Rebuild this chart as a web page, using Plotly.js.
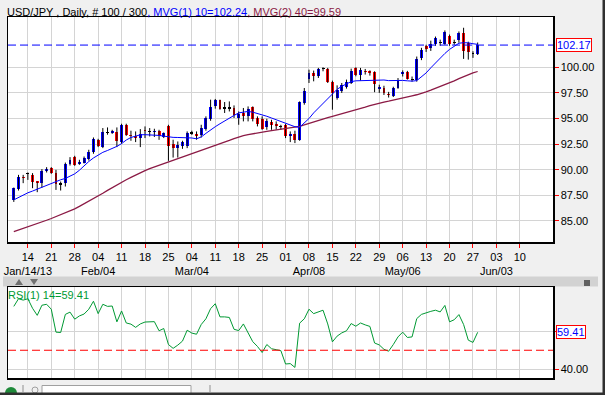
<!DOCTYPE html>
<html><head><meta charset="utf-8">
<script src="https://cdn.plot.ly/plotly-3.0.1.min.js"></script>
<style>html,body{margin:0;padding:0;background:#f0f0f0;overflow:hidden}#chart{width:605px;height:395px}</style>
</head><body><div id="chart"></div>
<script>
// ---- Data (USD/JPY daily, 100 bars, Jan 9 2013 .. May 28 2013) ----
const opens = [87.06,88.13,89.27,89.62,89.50,88.85,88.75,89.92,90.16,89.73,
88.60,88.69,90.58,91.23,90.58,90.70,91.04,91.75,92.93,92.21,
93.62,93.58,93.68,92.70,94.32,93.38,93.25,93.09,93.84,93.72,
93.68,93.74,93.19,94.30,92.50,92.17,92.34,92.27,93.56,93.51,
93.35,94.00,94.98,96.25,96.77,96.00,96.04,96.03,95.05,95.54,
95.21,96.09,95.05,94.95,94.13,94.66,94.46,94.25,94.32,93.25,
93.48,92.93,96.52,98.89,99.45,99.12,99.85,99.84,98.57,97.00,
97.72,98.04,98.47,99.94,99.29,99.63,99.58,99.51,97.89,97.98,
97.40,97.23,97.98,99.33,99.51,98.82,98.73,100.90,102.12,101.90,
102.32,102.42,102.32,103.03,102.44,102.64,103.37,102.39,101.30,101.33];
const highs = [88.26,89.50,89.50,89.73,89.67,88.87,90.06,90.25,90.25,89.99,
88.85,90.70,91.23,91.36,90.97,91.29,91.95,93.15,93.02,94.07,
94.13,93.90,94.13,94.49,94.49,93.81,93.74,93.97,94.23,94.07,
94.00,93.90,93.64,94.39,92.93,92.76,92.83,93.74,93.81,93.74,
94.39,95.21,96.84,96.91,96.84,96.61,96.67,96.28,95.69,96.03,
96.18,96.18,95.21,95.21,94.98,94.88,94.72,94.39,94.46,93.74,
93.81,96.67,97.98,99.77,99.68,99.94,100.00,99.94,98.70,98.24,
98.47,98.80,99.87,100.00,99.94,99.84,99.70,99.61,98.30,98.20,
97.60,98.10,98.95,99.70,99.65,99.10,101.05,101.90,102.20,102.60,
103.00,102.70,103.60,103.20,102.70,103.50,103.86,102.50,101.57,102.42];
const lows = [86.86,87.97,88.69,89.01,88.20,87.81,88.26,89.73,89.60,88.03,
87.97,88.36,90.41,90.38,90.48,90.61,90.90,91.56,92.21,92.11,
93.42,93.50,92.21,92.53,93.31,92.83,92.70,92.21,93.09,93.25,
93.20,92.92,93.09,90.87,91.19,91.19,92.04,92.11,93.40,92.93,
93.15,93.81,94.78,95.96,95.86,95.54,95.69,95.05,94.39,94.72,
94.72,94.72,94.23,93.90,93.90,93.90,93.90,93.90,93.09,92.70,
92.60,92.83,96.35,98.47,98.63,98.96,99.61,98.47,95.86,96.84,
97.50,97.92,98.37,99.12,98.70,99.29,99.19,97.57,97.50,97.30,
97.05,97.10,97.90,99.10,98.80,98.60,98.60,100.70,101.50,101.60,
102.10,102.10,102.20,102.10,102.20,102.40,100.82,100.75,100.92,101.20];
const closes = [88.20,89.33,89.20,89.66,88.85,88.75,89.89,90.09,89.73,88.59,
88.62,90.58,90.97,90.48,90.80,91.13,91.78,92.99,92.27,93.68,
93.66,93.74,92.76,94.39,93.42,93.32,93.15,93.48,93.76,93.76,
93.80,93.25,93.54,92.27,92.17,92.44,92.70,93.58,93.60,93.32,
94.07,95.05,96.09,96.77,95.96,96.04,96.00,95.37,95.44,95.21,
95.96,94.98,94.46,94.00,94.78,94.39,94.23,94.21,93.25,93.48,
92.93,96.58,97.65,99.45,99.12,99.87,99.88,98.57,97.50,97.82,
98.24,98.57,99.68,99.29,99.77,99.55,99.50,98.41,98.04,97.49,
97.26,97.98,98.80,99.53,98.89,98.78,100.82,101.73,101.79,102.32,
102.88,102.38,103.42,102.32,102.46,103.37,101.57,101.47,101.33,102.17];
const ma10 = [87.06,87.30,87.55,87.75,87.92,88.10,88.30,88.50,88.70,88.88,
89.02,89.15,89.35,89.60,89.95,90.40,90.80,91.15,91.45,91.70,
91.88,92.05,92.28,92.55,92.90,93.15,93.30,93.41,93.42,93.41,
93.38,93.35,93.28,93.20,93.16,93.15,93.15,93.15,93.10,93.02,
93.20,93.55,93.90,94.20,94.49,94.78,95.05,95.30,95.55,95.65,
95.69,95.62,95.50,95.38,95.22,95.05,94.88,94.70,94.55,94.33,
94.20,94.15,94.55,95.00,95.55,96.00,96.45,97.00,97.45,97.85,
98.15,98.40,98.60,98.68,98.70,98.73,98.73,98.75,98.80,98.76,
98.70,98.72,98.75,98.72,98.68,98.65,98.70,99.10,99.45,99.95,
100.43,100.90,101.35,101.75,102.05,102.35,102.40,102.39,102.30,102.24];
const ma40 = [83.95,84.10,84.26,84.41,84.57,84.73,84.90,85.07,85.24,85.42,
85.60,85.78,85.96,86.18,86.42,86.66,86.90,87.15,87.42,87.70,
87.98,88.26,88.52,88.78,89.02,89.26,89.50,89.72,89.92,90.10,
90.26,90.42,90.58,90.74,90.90,91.05,91.20,91.36,91.52,91.68,
91.84,92.00,92.16,92.33,92.50,92.68,92.86,93.04,93.20,93.32,
93.42,93.52,93.61,93.68,93.75,93.82,93.89,93.95,94.01,94.08,
94.15,94.23,94.38,94.53,94.69,94.85,94.97,95.09,95.21,95.33,
95.45,95.58,95.71,95.84,95.97,96.11,96.25,96.39,96.52,96.61,
96.70,96.79,96.87,96.98,97.09,97.21,97.32,97.43,97.60,97.77,
97.94,98.11,98.29,98.48,98.68,98.89,99.09,99.28,99.45,99.59];
const rsi = [73.0,77.0,76.3,77.0,72.0,68.3,73.6,74.1,71.5,59.5,
59.3,68.8,70.0,66.3,68.0,69.0,71.5,75.7,69.2,74.1,
73.0,73.2,64.9,70.6,64.3,63.7,62.0,63.8,64.8,64.9,
65.0,60.2,61.4,53.0,51.0,52.7,54.8,60.5,59.0,58.4,
63.5,66.5,71.8,74.4,67.5,67.5,67.2,61.0,60.3,63.8,
59.5,54.5,52.0,48.8,53.0,50.8,50.3,49.8,42.8,43.0,
41.0,64.2,66.5,71.5,69.2,70.3,71.0,63.8,54.4,57.4,
59.1,60.2,64.0,62.6,64.3,63.3,62.5,53.8,52.8,50.5,
49.5,53.0,57.0,59.5,56.7,57.0,66.6,68.8,69.7,70.4,
71.0,70.1,73.5,64.9,66.0,68.7,63.5,55.3,54.1,59.41];
const tickDays   = ["14","21","28","04","11","18","25","04","11","18","25","01","08","15","22","29","06","13","20","27","03","10"];
const tickMonths = ["Jan/14/13","","","Feb/04","","","","Mar/04","","","","","Apr/08","","","","May/06","","","","Jun/03",""];
const priceTicks = [85,87.5,90,92.5,95,97.5,100];
const rsiTicks = [40,60];
const rsiTickText = ["40.00",""];
const lastPrice = 102.17, ma10Last = 102.24, ma40Last = 99.59, rsiLast = 59.41, rsiLevel = 50;
const firstMondayBar = 3, barsPerWeek = 5;

// ---- build ----
const N = closes.length;
const xs = closes.map((_, i) => i);
const wx = [], wy = [];
for (let i = 0; i < N; i++) { wx.push(i, i, null); wy.push(lows[i], highs[i], null); }
const bBase = [], bLen = [], bCol = [];
for (let i = 0; i < N; i++) {
  const o = opens[i], c = closes[i];
  const lo = Math.min(o, c), hi = Math.max(o, c);
  let h = hi - lo;
  const col = h <= 0.05 ? '#000000' : (c > o ? '#0000ff' : '#ff0000');
  if (h < 0.12) { const m = (hi + lo) / 2; h = 0.12; bBase.push(m - h / 2); } else bBase.push(lo);
  bLen.push(h); bCol.push(col);
}
const tickvals = tickDays.map((d, k) => firstMondayBar + barsPerWeek * k);
const ticktext = tickDays.map((d, k) => tickMonths[k] ? d + '<br>' + tickMonths[k] : d);

const FONT = 'Liberation Sans, Arial, sans-serif';
const traces = [
  {type:'scatter', mode:'lines', x:wx, y:wy, xaxis:'x', yaxis:'y', line:{color:'#000000', width:1}, hoverinfo:'skip', connectgaps:false},
  {type:'bar', x:xs, y:bLen, base:bBase, xaxis:'x', yaxis:'y', width:0.62, marker:{color:bCol, line:{width:0}}, hoverinfo:'skip'},
  {type:'scatter', mode:'lines', x:xs, y:ma40, xaxis:'x', yaxis:'y', line:{color:'#8b1a45', width:1.3}, hoverinfo:'skip'},
  {type:'scatter', mode:'lines', x:xs, y:ma10, xaxis:'x', yaxis:'y', line:{color:'#0000ff', width:1}, hoverinfo:'skip'},
  {type:'scatter', mode:'lines', x:xs, y:rsi, xaxis:'x2', yaxis:'y2', line:{color:'#009933', width:1}, hoverinfo:'skip'}
];

// pixel helpers for window decorations (plot area: x 8..553, y 17..378)
const L = 8, R = 52, T = 17, B = 17, W = 605, H = 395;
const px = X => (X - L) / (W - L - R);
const py = Y => (H - B - Y) / (H - T - B);

const axisCommon = {showline:true, linecolor:'#000000', linewidth:1.5, mirror:true, zeroline:false,
  gridcolor:'#d4d4d4', gridwidth:1, fixedrange:true};
const xRange = [-1.24, 115.08];

const layout = {
  width:W, height:H, paper_bgcolor:'#f0f0f0', plot_bgcolor:'#ffffff',
  margin:{l:L, r:R, t:T, b:B}, showlegend:false, hovermode:false, bargap:0,
  font:{family:FONT, size:11, color:'#000000'},
  xaxis:Object.assign({}, axisCommon, {domain:[0,1], anchor:'y', range:xRange, tickmode:'array', tickvals:tickvals, ticktext:ticktext,
    tickangle:0, ticks:'outside', ticklen:4, tickcolor:'#ff0000', tickfont:{family:FONT, size:11, color:'#000000'}, showgrid:true}),
  yaxis:Object.assign({}, axisCommon, {domain:[0.3767,1], anchor:'x', side:'right', range:[82.945,104.91], tickmode:'array',
    tickvals:priceTicks, ticktext:priceTicks.map(v => v.toFixed(2)), ticks:'outside', ticklen:4, tickcolor:'#ff0000',
    tickfont:{family:FONT, size:11, color:'#000000'}, showgrid:true}),
  xaxis2:Object.assign({}, axisCommon, {domain:[0,1], anchor:'y2', range:xRange, tickmode:'array', tickvals:tickvals,
    showticklabels:false, ticks:'', showgrid:true}),
  yaxis2:Object.assign({}, axisCommon, {domain:[0,0.2512], anchor:'x2', side:'right', range:[35.45,83.0], tickmode:'array',
    tickvals:rsiTicks, ticktext:rsiTickText, ticks:'outside', ticklen:4, tickcolor:'#ff0000',
    tickfont:{family:FONT, size:11, color:'#000000'}, showgrid:true}),
  shapes:[
    {type:'line', xref:'x domain', yref:'y', x0:0, x1:1, y0:lastPrice, y1:lastPrice, line:{color:'#0000ff', width:1, dash:'8px,4px'}, layer:'above'},
    {type:'line', xref:'x2 domain', yref:'y2', x0:0, x1:1, y0:rsiLevel, y1:rsiLevel, line:{color:'#ff0000', width:1.2, dash:'8px,4px'}, layer:'above'},
    {type:'rect', xref:'paper', yref:'paper', x0:px(3), x1:px(598), y0:py(286.5), y1:py(276.5), fillcolor:'#d2d2d2', line:{width:0}, layer:'below'},
    {type:'path', xref:'paper', yref:'paper', path:`M ${px(15)} ${py(285)} L ${px(23)} ${py(285)} L ${px(19)} ${py(279)} Z`, fillcolor:'#707070', line:{width:0}},
    {type:'path', xref:'paper', yref:'paper', path:`M ${px(30)} ${py(279)} L ${px(38)} ${py(279)} L ${px(34)} ${py(285)} Z`, fillcolor:'#707070', line:{width:0}},
    {type:'rect', xref:'paper', yref:'paper', x0:px(584), x1:px(590), y0:py(286), y1:py(280), fillcolor:'#606060', line:{width:0}},
    {type:'circle', xref:'paper', yref:'paper', x0:px(5), x1:px(17), y0:py(399), y1:py(387), fillcolor:'#1f8a3a', line:{width:0}},
    {type:'line', xref:'paper', yref:'paper', x0:px(23), x1:px(23), y0:py(392), y1:py(385), line:{color:'#909090', width:1}},
    {type:'circle', xref:'paper', yref:'paper', x0:px(32), x1:px(38), y0:py(393), y1:py(387), fillcolor:'#f0f0f0', line:{color:'#a0a0a0', width:1}},
    {type:'rect', xref:'paper', yref:'paper', x0:px(42), x1:px(191), y0:py(395), y1:py(385.5), fillcolor:'#ffffff', line:{color:'#a0a0a0', width:1}},
    {type:'line', xref:'paper', yref:'paper', x0:px(210), x1:px(210), y0:py(392), y1:py(385), line:{color:'#909090', width:1}},
    {type:'rect', xref:'paper', yref:'paper', x0:px(0), x1:px(605), y0:py(395), y1:py(392.5), fillcolor:'#303030', line:{width:0}},
    {type:'rect', xref:'paper', yref:'paper', x0:px(602.5), x1:px(605), y0:py(395), y1:py(0), fillcolor:'#303030', line:{width:0}}
  ],
  annotations:[
    {xref:'paper', yref:'paper', x:0, y:1, xanchor:'left', yanchor:'bottom', xshift:-3, yshift:-3, showarrow:false,
     font:{family:FONT, size:11, color:'#000000'},
     text:`USD/JPY , Daily, # 100 / 300<span style="color:#0000ff">, MVG(1) 10=${ma10Last.toFixed(2)}</span><span style="color:#8b1a45">, MVG(2) 40=${ma40Last.toFixed(2)}</span>`},
    {xref:'paper', yref:'y', x:1, y:lastPrice, xanchor:'left', yanchor:'middle', xshift:3, showarrow:false,
     text:lastPrice.toFixed(2), font:{family:FONT, size:11, color:'#0000ff'}, bgcolor:'#ffffff', bordercolor:'#ff0000', borderwidth:1, borderpad:0},
    {xref:'paper', yref:'y2', x:1, y:rsiLast, xanchor:'left', yanchor:'middle', xshift:3, showarrow:false,
     text:rsiLast.toFixed(2), font:{family:FONT, size:11, color:'#0000ff'}, bgcolor:'#ffffff', bordercolor:'#ff0000', borderwidth:1, borderpad:0},
    {xref:'paper', yref:'y2 domain', x:0, y:1, xanchor:'left', yanchor:'top', xshift:-2, yshift:0, showarrow:false,
     text:`RSI(1) 14=${rsiLast.toFixed(2)}`, font:{family:FONT, size:11, color:'#009933'}}
  ]
};

Plotly.newPlot('chart', traces, layout, {staticPlot:true, displayModeBar:false});
</script>
</body></html>
